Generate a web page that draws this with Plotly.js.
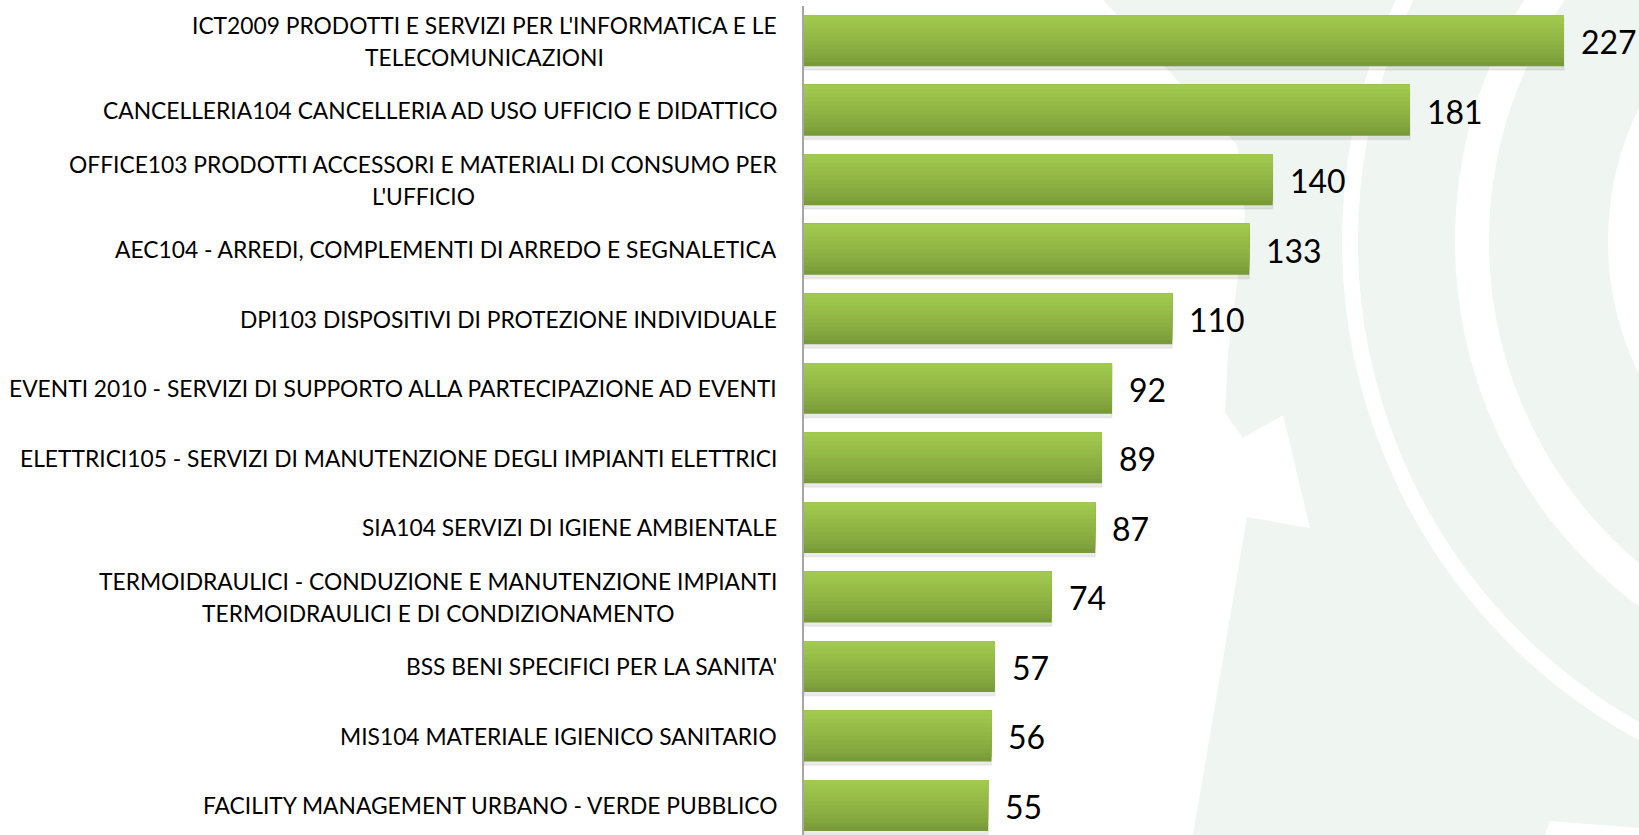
<!DOCTYPE html>
<html>
<head>
<meta charset="utf-8">
<script src="https://cdn.plot.ly/plotly-3.0.1.min.js"></script>
<style>
  html, body { margin: 0; padding: 0; background: #ffffff; }
  #chart { width: 1639px; height: 835px; }
</style>
</head>
<body>
<div id="chart"></div>
<script>
// ---- data ----
const categories = [
  "ICT2009 PRODOTTI E SERVIZI PER L'INFORMATICA E LE TELECOMUNICAZIONI",
  "CANCELLERIA104 CANCELLERIA AD USO UFFICIO E DIDATTICO",
  "OFFICE103 PRODOTTI ACCESSORI E MATERIALI DI CONSUMO PER L'UFFICIO",
  "AEC104 - ARREDI, COMPLEMENTI DI ARREDO E SEGNALETICA",
  "DPI103 DISPOSITIVI DI PROTEZIONE INDIVIDUALE",
  "EVENTI 2010 - SERVIZI DI SUPPORTO ALLA PARTECIPAZIONE AD EVENTI",
  "ELETTRICI105 - SERVIZI DI MANUTENZIONE DEGLI IMPIANTI ELETTRICI",
  "SIA104 SERVIZI DI IGIENE AMBIENTALE",
  "TERMOIDRAULICI - CONDUZIONE E MANUTENZIONE IMPIANTI TERMOIDRAULICI E DI CONDIZIONAMENTO",
  "BSS BENI SPECIFICI PER LA SANITA'",
  "MIS104 MATERIALE IGIENICO SANITARIO",
  "FACILITY MANAGEMENT URBANO - VERDE PUBBLICO"
];
const values = [227, 181, 140, 133, 110, 92, 89, 87, 74, 57, 56, 55];
const tickLabels = [
  ["ICT2009 PRODOTTI E SERVIZI PER L'INFORMATICA E LE", "TELECOMUNICAZIONI"],
  ["CANCELLERIA104 CANCELLERIA AD USO UFFICIO E DIDATTICO"],
  ["OFFICE103 PRODOTTI ACCESSORI E MATERIALI DI CONSUMO PER", "L'UFFICIO"],
  ["AEC104 - ARREDI, COMPLEMENTI DI ARREDO E SEGNALETICA"],
  ["DPI103 DISPOSITIVI DI PROTEZIONE INDIVIDUALE"],
  ["EVENTI 2010 - SERVIZI DI SUPPORTO ALLA PARTECIPAZIONE AD EVENTI"],
  ["ELETTRICI105 - SERVIZI DI MANUTENZIONE DEGLI IMPIANTI ELETTRICI"],
  ["SIA104 SERVIZI DI IGIENE AMBIENTALE"],
  ["TERMOIDRAULICI - CONDUZIONE E MANUTENZIONE IMPIANTI", "TERMOIDRAULICI E DI CONDIZIONAMENTO"],
  ["BSS BENI SPECIFICI PER LA SANITA'"],
  ["MIS104 MATERIALE IGIENICO SANITARIO"],
  ["FACILITY MANAGEMENT URBANO - VERDE PUBBLICO"]
];

// ---- layout geometry (pixels) ----
const W = 1639, H = 835;
const ML = 804, MR = 0, MT = 6, MB = 0;
const PW = W - ML - MR, PH = H - MT - MB;
const labelFont = 'Lato';
const labelSize = 22.8;
const valueSize = 32;
const labelRight = 777.5;   // right edge of category labels
const lineHalf = 16;        // half line spacing of two-line labels
const barW = 0.733;

function px(x) { return (x - ML) / PW; }
function py(y) { return (H - MB - y) / PH; }

function draw() {
  const ctx = document.createElement('canvas').getContext('2d');
  ctx.font = labelSize + 'px ' + labelFont;

  // gradient bars: layered overlays, dark bottom -> light top
  const dark = [121, 154, 57], light = [161, 201, 77];
  const N = 12;
  const traces = [];
  traces.push({
    type: 'bar', orientation: 'h', x: values, y: categories,
    offset: -barW / 2 + 0.055, width: barW,
    marker: { color: 'rgba(0,0,0,0.08)', line: { color: 'rgba(0,0,0,0.04)', width: 2 } },
    hoverinfo: 'skip', showlegend: false
  });
  for (let k = 0; k < N; k++) {
    const t = k / (N - 1);
    const c = dark.map((d, i) => Math.round(d + (light[i] - d) * Math.pow(t, 0.8)));
    traces.push({
      type: 'bar', orientation: 'h', x: values, y: categories,
      offset: -barW / 2, width: barW * (1 - k / N),
      marker: { color: 'rgb(' + c.join(',') + ')', line: { width: 0 } },
      hoverinfo: k === N - 1 ? 'x+y' : 'skip', showlegend: false
    });
  }

  // annotations: category labels (right aligned, 2nd line centred under 1st) and value labels
  const annotations = [];
  categories.forEach((cat, i) => {
    const lines = tickLabels[i];
    if (lines.length === 1) {
      annotations.push({
        xref: 'paper', yref: 'y', x: 0, y: cat, text: lines[0], showarrow: false,
        xanchor: 'right', yanchor: 'middle', xshift: labelRight - ML + 1,
        font: { family: labelFont, size: labelSize, color: '#000' }
      });
    } else {
      const w1 = ctx.measureText(lines[0]).width;
      annotations.push({
        xref: 'paper', yref: 'y', x: 0, y: cat, text: lines[0], showarrow: false,
        xanchor: 'right', yanchor: 'middle', xshift: labelRight - ML + 1, yshift: lineHalf,
        font: { family: labelFont, size: labelSize, color: '#000' }
      });
      annotations.push({
        xref: 'paper', yref: 'y', x: 0, y: cat, text: lines[1], showarrow: false,
        xanchor: 'center', yanchor: 'middle', xshift: labelRight - w1 / 2 - ML, yshift: -lineHalf,
        font: { family: labelFont, size: labelSize, color: '#000' }
      });
    }
    annotations.push({
      xref: 'x', yref: 'y', x: values[i], y: cat, text: String(values[i]), showarrow: false,
      xanchor: 'left', yanchor: 'middle', xshift: 15, yshift: -1,
      font: { family: labelFont, size: valueSize, color: '#000' }
    });
  });

  // background watermark (gear with rings), pixel geometry converted to paper coords
  const mint = '#EFF5F1';
  const gearPts = [[1103,0],[1237,145],[1245,215],[1237,285],[1228,353],[1225,413],[1243,438],
    [1283,415],[1310,528],[1247,517],[1193,835],[1545,835],[1550,821],[1639,828],[1639,0]];
  const gearPath = 'M' + gearPts.map(p => px(p[0]).toFixed(5) + ',' + py(p[1]).toFixed(5)).join(' L') + ' Z';
  const cx = 1910, cy = 241;
  function circ(r, opts) {
    return Object.assign({ type: 'circle', xref: 'paper', yref: 'paper', layer: 'below',
      x0: px(cx - r), x1: px(cx + r), y0: py(cy + r), y1: py(cy - r) }, opts);
  }
  const shapes = [
    { type: 'path', xref: 'paper', yref: 'paper', layer: 'below', path: gearPath,
      fillcolor: mint, line: { width: 0 } },
    circ(560, { line: { color: '#ffffff', width: 16 }, fillcolor: 'rgba(0,0,0,0)' }),
    circ(438, { line: { color: '#ffffff', width: 34 }, fillcolor: 'rgba(0,0,0,0)' }),
    circ(302, { line: { width: 0 }, fillcolor: '#ffffff' })
  ];

  const layout = {
    width: W, height: H,
    margin: { l: ML, r: MR, t: MT, b: MB, pad: 0 },
    paper_bgcolor: '#ffffff', plot_bgcolor: 'rgba(0,0,0,0)',
    barmode: 'overlay',
    showlegend: false,
    xaxis: { range: [0, 249.4], visible: false, fixedrange: true },
    yaxis: {
      type: 'category', categoryorder: 'array', categoryarray: categories,
      range: [11.5 - 5.25 / 69.55, -0.5],
      showticklabels: false, ticks: '', showgrid: false, zeroline: false,
      showline: true, linecolor: '#A6A6A6', linewidth: 2, fixedrange: true
    },
    annotations: annotations,
    shapes: shapes
  };
  Plotly.newPlot('chart', traces, layout, { displayModeBar: false, staticPlot: true });
}

if (document.fonts && document.fonts.load) {
  Promise.all([
    document.fonts.load(labelSize + 'px ' + labelFont),
    document.fonts.load(valueSize + 'px ' + labelFont)
  ]).then(draw, draw);
} else {
  draw();
}
</script>
</body>
</html>
